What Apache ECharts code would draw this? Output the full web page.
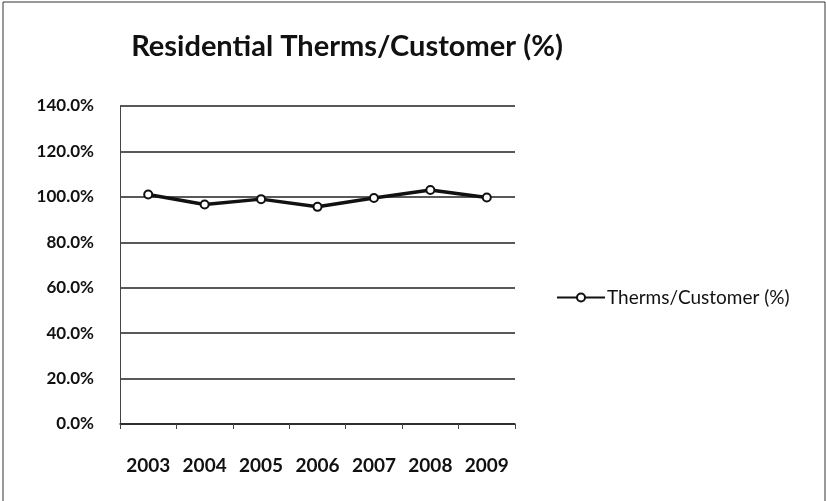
<!DOCTYPE html>
<html><head><meta charset="utf-8">
<script src="https://cdn.jsdelivr.net/npm/echarts@6/dist/echarts.min.js"></script>
<style>html,body{margin:0;padding:0;background:#fff}#c{width:826px;height:501px}</style>
</head><body><div id="c"></div>
<script>
const categories = ['2003','2004','2005','2006','2007','2008','2009'];
const seriesName = 'Therms/Customer (%)';
const values = [101.0, 96.6, 99.0, 95.6, 99.5, 103.0, 99.7];
const chart = echarts.init(document.getElementById('c'));
chart.setOption({
  animation: false,
  backgroundColor: '#fff',
  graphic: [{type:'rect', shape:{x:3,y:2,width:822,height:500}, style:{fill:'none', stroke:'#333', lineWidth:1}}],
  title: {text:'Residential Therms/Customer (%)', left:342, top:27, textAlign:'center',
    textStyle:{fontFamily:'Lato', fontWeight:'bold', fontSize:29, color:'#111'}},
  grid: {left:120, right:311, top:106, bottom:77},
  legend: {data:[seriesName], left:551, top:283, itemWidth:48, itemHeight:10, itemGap:4,
    textStyle:{fontFamily:'Lato', fontSize:19, color:'#111', padding:[0,0,0,-3]}},
  xAxis: {type:'category', data:categories, boundaryGap:true,
    axisLine:{lineStyle:{color:'#222', width:1.5}}, axisTick:{show:true, lineStyle:{color:'#444'}},
    axisLabel:{interval:0, fontFamily:'Lato', fontWeight:'bold', fontSize:19, color:'#111', margin:32}},
  yAxis: {type:'value', min:0, max:140, interval:20,
    axisLine:{show:true, lineStyle:{color:'#444', width:1}},
    axisTick:{show:false},
    splitLine:{lineStyle:{color:'#222', width:1.5}},
    axisLabel:{fontFamily:'Lato', fontWeight:'bold', fontSize:17, color:'#111', margin:26,
      formatter: v => v.toFixed(1)+'%'}},
  series: [{name:seriesName, type:'line', data:values, symbol:'circle', symbolSize:8,
    lineStyle:{color:'#111', width:3.5}, itemStyle:{color:'#fff', borderColor:'#111', borderWidth:2}}]
});
</script></body></html>
